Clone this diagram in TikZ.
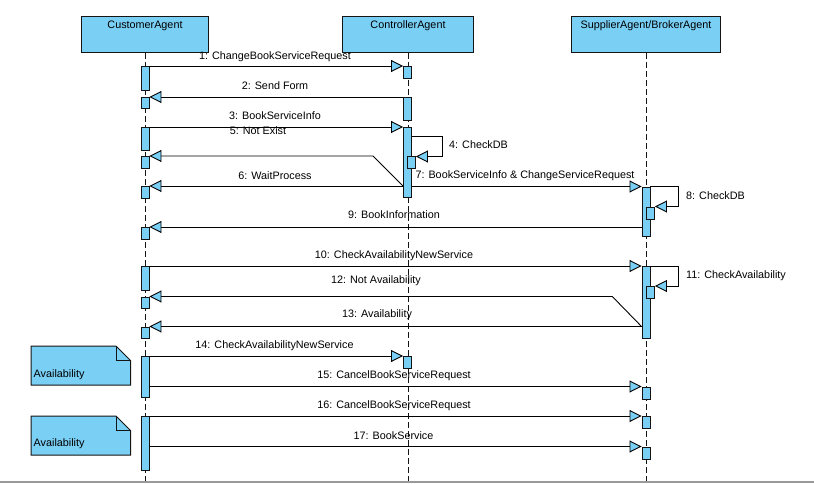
\documentclass[tikz,border=0pt]{standalone}
\usepackage{fontspec}
\setmainfont{Liberation Sans}
\usetikzlibrary{arrows.meta}
\definecolor{boxblue}{RGB}{122,207,245}
\definecolor{edge}{RGB}{20,20,20}
\begin{document}
\begin{tikzpicture}[x=1pt,y=-1pt,
  font=\fontsize{10.8}{12}\selectfont,
  headbox/.style={draw=edge, fill=boxblue, line width=1pt, minimum width=#1, minimum height=36pt, anchor=north west, inner sep=0pt},
  act/.style={draw=edge, fill=boxblue, line width=0.9pt, minimum width=8pt, minimum height=#1, anchor=north, inner sep=0pt},
  life/.style={draw=edge, line width=0.8pt, dash pattern=on 6pt off 3pt},
  msg/.style={draw=black, line width=0.9pt, -{Triangle[length=12pt,width=12pt,fill=boxblue]}},
  lbl/.style={inner sep=0pt, yshift=-1.5pt},
  notebox/.style={draw=edge, fill=boxblue, line width=1pt},
]
\useasboundingbox (0,0) rectangle (814,484);

% heads
\node[headbox=127pt] (cust) at (81,16) {};
\node[headbox=131pt] (ctrl) at (342,16) {};
\node[headbox=149pt] (supp) at (571,16) {};
\node[inner sep=0pt, anchor=base] (custt) at (cust.north |- 0,29) {CustomerAgent};
\node[inner sep=0pt, anchor=base] (ctrlt) at (ctrl.north |- 0,29) {ControllerAgent};
\node[inner sep=0pt, anchor=base] (suppt) at (supp.north |- 0,29) {SupplierAgent/BrokerAgent};

% lifelines
\coordinate (bot) at (0,482);
\draw[life] (cust.south) -- (cust.south |- bot);
\draw[life] (ctrl.south) -- (ctrl.south |- bot);
\draw[life] (supp.south) -- (supp.south |- bot);

% bottom rule
\draw[gray!80, line width=1.5pt] (0,482) -- (814,482);

% customer activations
\node[act=24pt] (ca1) at (145,66) {};
\node[act=11.5pt] (ca2) at (145,97) {};
\node[act=23pt] (ca3) at (145,127) {};
\node[act=12pt] (ca4) at (145,156) {};
\node[act=12pt] (ca5) at (145,186) {};
\node[act=11.5pt] (ca6) at (145,227) {};
\node[act=24pt] (ca7) at (145,266) {};
\node[act=11.5pt] (ca8) at (145,296.5) {};
\node[act=11.5pt] (ca9) at (145,326.5) {};
\node[act=41pt] (ca10) at (145,356) {};
\node[act=54pt] (ca11) at (145,416) {};

% controller activations
\node[act=12pt] (ka1) at (407.5,66) {};
\node[act=23pt] (ka2) at (407.5,97) {};
\node[act=70pt] (ka3) at (407.5,127) {};
\node[act=12pt] (ka4) at (411.5,156.5) {};
\node[act=12pt] (ka5) at (407.5,356) {};

% supplier activations
\node[act=49.5pt] (sa1) at (646,186.5) {};
\node[act=12pt] (sa2) at (650.5,206.5) {};
\node[act=72pt] (sa3) at (646,266) {};
\node[act=12pt] (sa4) at (650.5,286) {};
\node[act=12pt] (sa5) at (646,386.5) {};
\node[act=12pt] (sa6) at (646,416) {};
\node[act=12pt] (sa7) at (646,446.5) {};

% messages
\draw[msg] (ca1.east |- ka1.north) -- (ka1.north west);
\node[lbl] (l1) at (275,55) {1: ChangeBookServiceRequest};

\draw[msg] (ka2.west |- ca2.north) -- (ca2.north east);
\node[lbl] (l2) at (275,84) {2: Send Form};

\draw[msg] (ca3.east |- ka3.north) -- (ka3.north west);
\node[lbl] (l3) at (275,114) {3: BookServiceInfo};

\draw[msg] ([yshift=-9pt]ka3.north east) -- ++(30,0) |- (ka4.north east);
\node[lbl, anchor=west] (l4) at (449,143) {4: CheckDB};

\coordinate (k5) at (373,156);
\draw[msg] (ka3.west |- ca5.north) -- (k5) -- (ca4.north east);
\node[lbl] (l5) at (258,129.5) {5: Not Exist};

\draw[msg] (ka3.west |- ca5.north) -- (ca5.north east);
\node[lbl] (l6) at (275,174) {6: WaitProcess};

\draw[msg] (ka3.east |- sa1.north) -- (sa1.north west);
\node[lbl] (l7) at (525,174.3) {7: BookServiceInfo \& ChangeServiceRequest};

\draw[msg] (sa1.north east) -- ++(27.5,0) |- (sa2.north east);
\node[lbl, anchor=west] (l8) at (686,194) {8: CheckDB};

\draw[msg] (sa1.west |- ca6.north) -- (ca6.north east);
\node[lbl] (l9) at (394,213.5) {9: BookInformation};

\draw[msg] (ca7.east |- sa3.north) -- (sa3.north west);
\node[lbl] (l10) at (394,254) {10: CheckAvailabilityNewService};

\draw[msg] (sa3.north east) -- ++(27.5,0) |- (sa4.north east);
\node[lbl, anchor=west] (l11) at (686,274) {11: CheckAvailability};

\coordinate (s12) at (612.3,296.5);
\draw[msg] (sa3.west |- ca9.north) -- (s12) -- (ca8.north east);
\node[lbl] (l12) at (376,279.5) {12: Not Availability};

\draw[msg] (sa3.west |- ca9.north) -- (ca9.north east);
\node[lbl] (l13) at (377,313.5) {13: Availability};

\draw[msg] (ca10.north east) -- (ka5.north west);
\node[lbl] (l14) at (274.5,344) {14: CheckAvailabilityNewService};

\draw[msg] (ca10.east |- sa5.north) -- (sa5.north west);
\node[lbl] (l15) at (394,374) {15: CancelBookServiceRequest};

\draw[msg] (ca11.north east) -- (sa6.north west);
\node[lbl] (l16) at (394,404) {16: CancelBookServiceRequest};

\draw[msg] (ca11.east |- sa7.north) -- (sa7.north west);
\node[lbl] (l17) at (393.5,434) {17: BookService};

% notes
\draw[notebox] (31,346) -- (116,346) -- (130.5,360.5) -- (130.5,385) -- (31,385) -- cycle;
\draw[edge, line width=1pt] (116,346) -- (116,360.5) -- (130.5,360.5);
\node[lbl, anchor=west] (n1) at (33.5,373) {Availability};

\draw[notebox] (31,416) -- (116,416) -- (130.5,430.5) -- (130.5,455) -- (31,455) -- cycle;
\draw[edge, line width=1pt] (116,416) -- (116,430.5) -- (130.5,430.5);
\node[lbl, anchor=west] (n2) at (33.5,442) {Availability};
\end{tikzpicture}
\end{document}
